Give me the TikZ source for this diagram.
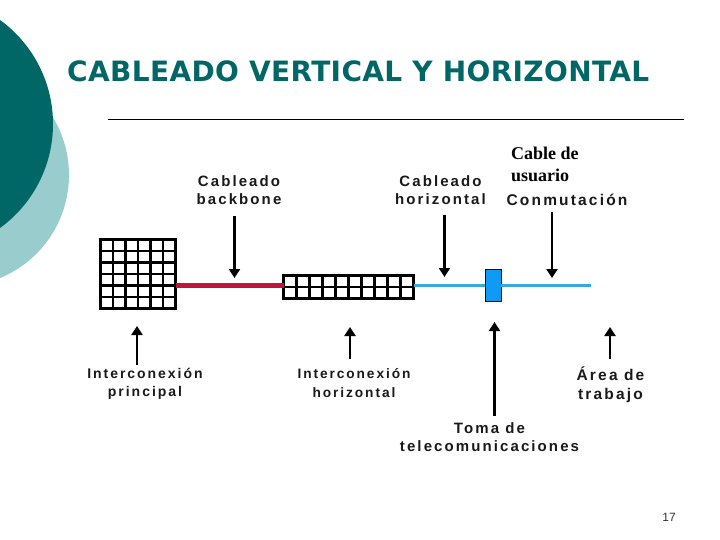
\documentclass[tikz,border=0pt]{standalone}
\usepackage{fontspec}
\usetikzlibrary{arrows.meta}
\setmainfont{Liberation Sans}
\newfontfamily\labfont[LetterSpace=14]{Liberation Sans}
\newfontfamily\titlefont[LetterSpace=1.3]{DejaVu Sans}
\newfontfamily\serifbold{Liberation Serif}
\definecolor{tealdark}{HTML}{006666}
\definecolor{teallight}{HTML}{99CCCC}
\definecolor{cablered}{HTML}{C0143C}
\definecolor{cableblue}{HTML}{3AA8E0}
\definecolor{outletblue}{HTML}{0F9BF5}
\tikzset{
  lab/.style={font=\labfont\bfseries\fontsize{#1}{18.5}\selectfont,align=center,inner sep=0pt,text=black!90},
  lab/.default=15,
  ptr/.style={line width=2.2pt,draw=black,-{Triangle[length=9pt,width=11pt]}},
  gridline/.style={line width=2.3pt,draw=black},
  gridbox/.style={draw=black,line width=2.6pt,fill=white,inner sep=0pt,minimum width=0pt,anchor=north west}
}
\begin{document}
\begin{tikzpicture}[x=1pt,y=-1pt]
\useasboundingbox (0,0) rectangle (720,540);
\begin{scope}
  \clip (0,0) rectangle (720,540);
  \fill[teallight] (-42.4,175) circle[radius=111.4];
  \fill[tealdark] (-75.5,124) circle[radius=128.5];
\end{scope}
\node[anchor=west,inner sep=0pt,text=tealdark,font=\titlefont\bfseries\fontsize{28}{32}\selectfont] (title) at (67,71) {CABLEADO VERTICAL Y HORIZONTAL};
\coordinate (ruleL) at (108,119.5);
\coordinate (ruleR) at (684,119.5);
\draw[line width=1.7pt] (ruleL) -- (ruleR);
% grids
\node[gridbox,minimum width=75pt,minimum height=69pt,outer sep=0pt] (g1) at (100.5,239.5) {};
\foreach \i in {1,...,5}{
  \draw[gridline] (100.5+\i*12.5,239.5) -- (100.5+\i*12.5,308.5);
  \draw[gridline] (100.5,239.5+\i*11.5) -- (175.5,239.5+\i*11.5);
}
\node[gridbox,minimum width=130pt,minimum height=23pt,outer sep=0pt] (g2) at (283.5,275.5) {};
\foreach \i in {1,...,9}{
  \draw[gridline] (283.5+\i*13,275.5) -- (283.5+\i*13,298.5);
}
\draw[gridline] (283.5,287) -- (413.5,287);
\node[draw=black!70!blue,line width=0.7pt,fill=outletblue,minimum width=16pt,minimum height=32pt,inner sep=0pt] (outlet) at (493,285) {};
\coordinate (cableEnd) at (591,285.7);
\draw[cablered,line width=4.5pt] (g1.east |- 0,285.7) -- (g2.west |- 0,285.7);
\draw[cableblue,line width=2.6pt] (g2.east |- 0,285.7) -- (outlet.west |- 0,285.7);
\draw[cableblue,line width=2.6pt] (outlet.east |- 0,285.7) -- (cableEnd);
% labels
\node[lab] (lbb) at (239,190) {Cableado\\backbone};
\node[lab] (lho) at (440.5,190) {Cableado\\horizontal};
\node[lab=15.5] (lco) at (567,200) {Conmutación};
\node[inner sep=0pt,anchor=north west,align=left,font=\serifbold\bfseries\fontsize{18}{22}\selectfont] (lcu) at (511,147) {Cable de\\usuario};
\node[lab=14] (lip) at (145,384) {Interconexión\\principal};
\node[lab=13.7] (lih) at (354,383) {Interconexión\\horizontal};
\node[lab=15.5] (lta) at (610.5,384.5) {Área de\\trabajo};
\node[lab] (ltm) at (489.5,437) {Toma de\\telecomunicaciones};
\node[anchor=center,inner sep=0pt,font=\fontsize{12}{14}\selectfont,text=black!80] (pg) at (669,517) {17};
% arrow ends
\coordinate (a1s) at (234.5,216); \coordinate (a1e) at (234.5,278);
\coordinate (a2s) at (444.5,215); \coordinate (a2e) at (444.5,277);
\coordinate (a3s) at (552,212); \coordinate (a3e) at (552,278);
\coordinate (b1s) at (137,365); \coordinate (b1e) at (137,326);
\coordinate (b2s) at (350,359); \coordinate (b2e) at (350,327);
\coordinate (b3s) at (494.5,416); \coordinate (b3e) at (494.5,322);
\coordinate (b4s) at (610,359); \coordinate (b4e) at (610,327);
\foreach \s/\e in {a1s/a1e,a2s/a2e,a3s/a3e,b1s/b1e,b2s/b2e,b3s/b3e,b4s/b4e}{
  \draw[ptr] (\s) -- (\e);
}
\end{tikzpicture}
\end{document}
